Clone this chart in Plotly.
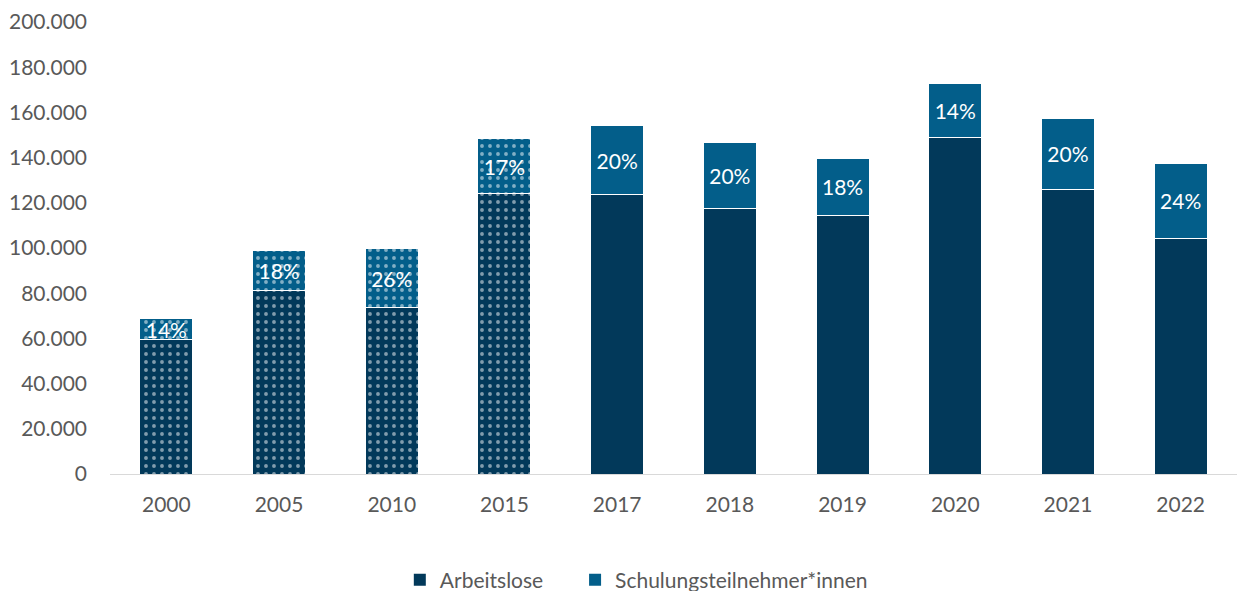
import plotly.graph_objects as go

years = ["2000", "2005", "2010", "2015", "2017", "2018", "2019", "2020", "2021", "2022"]
arbeitslose = [59300, 81000, 73800, 124000, 123500, 117700, 114200, 149100, 126100, 104000]
schulung = [9500, 17700, 25800, 24300, 30600, 29200, 25600, 23500, 31400, 33600]
anteil = ["14%", "18%", "26%", "17%", "20%", "20%", "18%", "14%", "20%", "24%"]
schraffiert = [True, True, True, True, False, False, False, False, False, False]
serien = ["Arbeitslose", "Schulungsteilnehmer*innen"]

c_arb = "#02395A"
c_sch = "#035E8A"
shapes = ["." if s else "" for s in schraffiert]
FONT = "Lato"
GREY = "#595959"
FS = 21

fig = go.Figure()
fig.add_trace(go.Bar(
    x=years, y=arbeitslose, name=serien[0], showlegend=False,
    marker=dict(color=c_arb, line=dict(color="white", width=1),
                pattern=dict(shape=shapes, fgcolor="white", bgcolor=c_arb,
                             size=8, solidity=0.18, fillmode="overlay")),
    hoverinfo="skip",
))
fig.add_trace(go.Bar(
    x=years, y=schulung, name=serien[1], showlegend=False,
    text=anteil, textposition="inside", insidetextanchor="middle",
    textfont=dict(color="white", size=FS, family=FONT),
    marker=dict(color=c_sch, line=dict(color="white", width=1),
                pattern=dict(shape=shapes, fgcolor="white", bgcolor=c_sch,
                             size=8, solidity=0.18, fillmode="overlay")),
    hoverinfo="skip",
))
# legend entries (solid squares)
pad = "\u00a0" * 5
for name, col in [(serien[0] + pad, c_arb), (serien[1], c_sch)]:
    fig.add_trace(go.Scatter(x=[None], y=[None], mode="markers", name=name,
                             marker=dict(symbol="square", size=12, color=col),
                             hoverinfo="skip"))

fig.update_layout(
    barmode="stack",
    bargap=0.53,
    width=1237, height=591,
    margin=dict(l=110, r=0, t=22, b=117, autoexpand=False),
    plot_bgcolor="white", paper_bgcolor="white",
    font=dict(family=FONT, color=GREY, size=FS),
    legend=dict(orientation="h", x=0.467, xanchor="center", y=-0.235, yanchor="middle",
                font=dict(size=FS, color=GREY), itemwidth=30,
                traceorder="normal", itemclick=False),
    showlegend=True,
    uniformtext=dict(mode="show", minsize=FS),
    separators=",.",
)
fig.update_yaxes(range=[0, 200000], dtick=20000, tickformat=",d",
                 showgrid=False, zeroline=False,
                 showline=False, ticklabelstandoff=22,
                 tickfont=dict(size=FS, color=GREY))
fig.update_xaxes(showline=True, linecolor="#D9D9D9", linewidth=1,
                 showgrid=False, ticklabelstandoff=12, type="category",
                 range=[-0.5, 9.5],
                 tickfont=dict(size=FS, color=GREY))

fig.write_html("out.html")
